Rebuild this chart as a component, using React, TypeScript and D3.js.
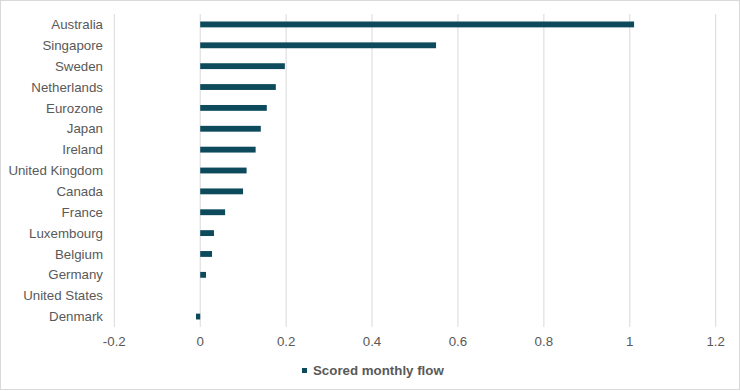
import React from "react";
import * as d3 from "d3";

const categories = [
  "Australia", "Singapore", "Sweden", "Netherlands", "Eurozone", "Japan", "Ireland",
  "United Kingdom", "Canada", "France", "Luxembourg", "Belgium", "Germany", "United States", "Denmark",
];
const values = [1.01, 0.549, 0.197, 0.176, 0.155, 0.141, 0.129, 0.108, 0.0997, 0.058, 0.032, 0.0275, 0.0135, 0, -0.0098];
const ticks = [-0.2, 0, 0.2, 0.4, 0.6, 0.8, 1, 1.2];
const seriesName = "Scored monthly flow";

export default function App() {
  const W = 740, H = 391;
  const x = d3.scaleLinear().domain([-0.2, 1.2]).range([114.3, 715.7]);
  const y = d3.scaleBand().domain(categories).range([14, 327]).paddingInner(0.72).paddingOuter(0.36);
  const font = "'Liberation Sans', Arial, sans-serif";
  const color = "#0d4a5c";
  const fs = 13.3;
  return (
    <svg width={W} height={H} style={{ position: "absolute", left: 0, top: 0 }}>
      <rect x={0.5} y={0.5} width={W - 1} height={H - 2} fill="#fff" stroke="#d9d9d9" />
      {ticks.map((t) => (
        <line key={t} x1={x(t)} x2={x(t)} y1={14} y2={327} stroke="#d9d9d9" strokeWidth={1} />
      ))}
      {categories.map((c, i) => {
        const v = values[i];
        return (
          <rect key={c} x={Math.min(x(0), x(v))} y={y(c)!} width={Math.abs(x(v) - x(0))} height={y.bandwidth()} fill={color} />
        );
      })}
      {categories.map((c) => (
        <text key={c} x={103} y={y(c)! + y.bandwidth() / 2} dy="0.35em" textAnchor="end" fontFamily={font} fontSize={fs} fill="#595959">
          {c}
        </text>
      ))}
      {ticks.map((t) => (
        <text key={t} x={x(t)} y={341} dy="0.35em" textAnchor="middle" fontFamily={font} fontSize={fs} fill="#595959">
          {String(t)}
        </text>
      ))}
      <rect x={302} y={368} width={5} height={5} fill={color} />
      <text x={313} y={370.5} dy="0.35em" fontFamily={font} fontSize={fs} fontWeight="bold" fill="#595959">
        {seriesName}
      </text>
    </svg>
  );
}
